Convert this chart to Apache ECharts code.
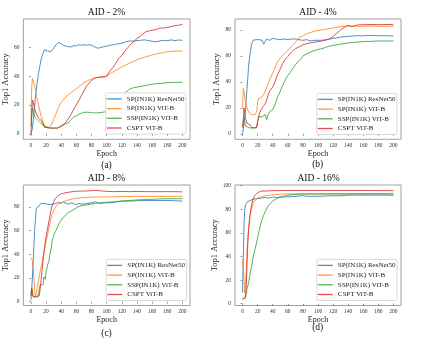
<!DOCTYPE html>
<html><head><meta charset="utf-8">
<script src="https://cdn.jsdelivr.net/npm/echarts@6/dist/echarts.min.js"></script>
<style>html,body{margin:0;padding:0;background:#fff}#c{width:423px;height:345px}</style>
</head><body><div id="c"></div>
<script>
// ---- data ----
const seriesNames = ['SP(IN1K) ResNet50', 'SP(IN1K) ViT-B', 'SSP(IN1K) ViT-B', 'CSPT ViT-B'];
const panelTitles = ['AID - 2%', 'AID - 4%', 'AID - 8%', 'AID - 16%'];
const panelLabels = ['(a)', '(b)', '(c)', '(d)'];
const xTicks = [0, 20, 40, 60, 80, 100, 120, 140, 160, 180, 200];
const yTicksA = [0, 20, 40, 60];
const yTicksB = [0, 20, 40, 60, 80];
const yTicksC = [0, 20, 40, 60, 80];
const yTicksD = [0, 20, 40, 60, 80, 100];

const a_resnet = [[0,0],[2,4],[4,15],[6,26],[8,35],[10,42],[12,48],[14,53],[16,56],[18,58.5],[20,59],[22,57.5],[24,57],[26,57],[28,58],[30,59.5],[33,62],[36,63.5],[38,63],[40,62.5],[43,61.5],[46,61],[50,60.5],[54,60.5],[57,61.5],[60,61],[63,62],[66,61.5],[70,62],[73,61.5],[76,62],[80,61.5],[84,60.5],[88,59.5],[92,60],[96,60.5],[100,61],[105,61.5],[110,62],[115,62.5],[120,63],[125,64],[130,64.5],[135,64.5],[140,64.8],[145,65],[150,65.3],[155,64.8],[160,64.3],[165,64],[170,64.5],[175,65],[180,64.7],[185,65.3],[190,64.8],[195,65.2],[200,65]];
const a_vit = [[0,10],[1,33],[2,38.5],[3,37.5],[5,33],[7,27],[10,20],[13,13],[16,8],[18,5.5],[20,4.5],[23,4.5],[26,5.5],[28,7.5],[30,10],[33,14],[36,18],[40,22],[45,25],[50,27.5],[55,29.5],[60,31.5],[65,33.5],[70,35.5],[75,37],[80,38],[85,39],[90,39.5],[95,39.5],[100,40.5],[105,42],[110,43.5],[115,45],[120,46.5],[130,49],[140,51.5],[150,53.3],[160,54.8],[170,56],[180,57],[190,57.5],[200,57.5]];
const a_ssp = [[0,5],[1,12],[2,18],[3,16],[4,13],[6,11],[8,10],[10,9],[12,8.5],[14,7],[16,6],[18,5],[20,4],[25,4],[30,4],[35,4],[38,5],[42,6.5],[46,7],[50,8],[53,10],[56,11.5],[60,12.5],[65,14],[70,15],[75,15],[80,14.8],[85,14.5],[90,14.7],[95,15],[100,15.5],[105,17],[110,19],[115,22.5],[120,26],[125,29],[130,31],[135,32],[140,32.5],[150,33.5],[160,34.5],[170,35],[180,35.5],[190,35.8],[200,35.8]];
const a_cspt = [[0,0],[1,15],[2,23.5],[3,22],[5,17],[7,14],[10,11],[12,10],[14,9],[16,7],[18,4.5],[20,4],[25,4],[30,4],[35,4],[40,5],[43,6],[46,8],[50,11],[54,14.5],[58,18.5],[62,22],[66,26],[70,30],[74,33.5],[78,36],[82,38],[86,39],[90,39.3],[95,39.5],[100,39.8],[102,42],[104,43.5],[108,46],[112,49],[116,52.5],[120,54.5],[124,57.5],[128,60],[132,62.5],[136,64],[140,66.5],[144,67.5],[148,69.5],[152,71],[156,71.5],[160,72],[165,72.5],[170,73.5],[175,73.5],[180,74],[185,74.5],[190,75.2],[195,75.5],[200,76]];

const b_resnet = [[0,0],[2,8],[4,20],[6,35],[8,52],[10,62],[12,69],[14,72],[16,72],[18,72.5],[20,73],[22,72.5],[24,73.5],[26,72],[28,69],[30,71],[32,73],[34,72.5],[36,72],[38,73],[40,73.5],[42,72.5],[44,73],[46,73.5],[48,72.5],[50,72],[55,73],[60,72.5],[65,73],[70,73],[75,72.5],[80,72],[85,72.5],[90,71.5],[95,72],[100,72],[105,72],[110,72.5],[115,73],[120,73.5],[125,74],[130,74.5],[140,75],[150,75.5],[160,75.5],[170,75.8],[180,75.5],[190,75.5],[200,75.3]];
const b_vit = [[0,20],[1,35],[2,33],[3,28],[5,22],[7,18],[9,16],[11,15],[13,14.5],[15,14],[17,15],[19,18],[20,25],[22,27.5],[25,28],[28,30],[30,33],[33,37],[36,42],[40,47],[43,51],[46,55],[50,58.5],[55,61.5],[60,64],[65,67.5],[70,70.5],[75,74],[80,75.5],[85,77],[90,78],[95,79],[100,79.5],[110,80.5],[120,81.5],[130,82.5],[140,83],[150,82.8],[160,82.8],[170,83],[180,82.8],[190,82.8],[200,82.8]];
const b_ssp = [[0,5],[1,8],[2,12],[3,9],[4,6],[6,4.5],[10,4.5],[15,4.5],[19,5],[20,10],[22,13.5],[24,14],[26,13],[28,12],[30,15],[32,11],[34,15],[36,17],[38,16],[40,18.5],[42,20],[44,24],[46,28],[48,30],[50,33],[53,37],[56,41],[60,45],[63,47],[66,50],[70,53],[74,56],[78,58],[80,60],[85,61.5],[90,63],[95,64],[100,65],[105,65.5],[110,66.5],[115,67.5],[120,68],[130,69],[140,70],[150,70.5],[160,71],[170,71.2],[180,71.5],[190,71.5],[200,71.5]];
const b_cspt = [[0,5],[1,12],[2,20],[3,17],[4,12],[6,8],[8,7.5],[10,7],[12,5],[14,4.5],[18,4.5],[20,9],[22,15],[24,18],[26,20],[28,21],[30,23],[32,26],[34,30],[36,33],[38,34],[40,36],[43,40],[46,45],[50,50],[53,54],[56,57],[60,59.5],[63,62],[66,63.5],[70,65.5],[75,67],[80,68.5],[85,69.5],[90,70],[95,70.5],[100,71],[105,71.5],[110,72],[115,73],[120,75],[125,77.5],[130,80],[135,82],[140,83.5],[145,82.5],[150,83.5],[155,84],[160,84],[170,84.2],[180,84],[190,84.2],[200,84]];

const c_resnet = [[0,1.5],[1,10],[3,35],[5,62],[7,79],[9,80.5],[11,81],[13,83],[15,84],[17,83],[19,83.5],[21,82.5],[23,83],[25,82],[27,83.5],[30,82.5],[33,83],[36,84],[40,83],[43,84.5],[46,83],[50,82.5],[53,83.5],[56,83],[60,82],[63,83],[66,82.5],[70,82.5],[75,83],[80,83.5],[85,84.5],[88,83.5],[92,83],[96,83.5],[100,83.5],[105,83.5],[110,84],[115,84.5],[120,85],[130,85],[140,85.3],[150,85.5],[160,85.5],[170,85.5],[180,85.5],[190,85.3],[200,85]];
const c_vit = [[0,37],[1,36.5],[2,35],[3,28],[4,18],[5,8],[6,5],[7,7],[8,11],[10,18],[12,25],[14,31],[16,38],[18,45],[20,51],[22,57],[24,63],[26,69],[28,74],[30,77],[33,80.5],[36,82.5],[40,84],[45,85],[50,86],[55,86.8],[60,87.5],[70,88],[80,88.3],[90,88.5],[100,88.5],[120,88.8],[140,89],[160,89],[180,89],[200,89]];
const c_ssp = [[0,6],[1,12],[2,6],[3,4],[6,4],[9,4],[11,5],[12,14],[14,15],[16,14.5],[17,21],[18,22],[19,19],[20,26],[21,28],[22,31],[24,35],[25,40],[27,46],[28,52],[30,55],[31,58],[33,60],[35,63],[37,66],[39,68],[41,70],[44,72],[47,74],[50,75.5],[54,77],[58,78.5],[62,80],[66,81],[70,81.5],[75,82],[80,82.5],[85,83],[90,83.5],[100,84],[110,84.5],[120,85],[130,85.5],[140,86],[150,86.3],[160,86.5],[170,86.8],[180,87],[190,87],[200,87]];
const c_cspt = [[0,5],[1,11],[2,8],[3,4.5],[5,5],[7,4.5],[9,4],[11,5],[12,10],[14,22],[16,35],[18,46],[20,55],[22,62],[24,69],[26,76],[28,81],[30,84.5],[32,87],[35,89],[38,90.5],[42,91.5],[46,92],[50,92.5],[55,93],[60,93.3],[65,93.5],[70,93.5],[80,93.8],[85,94],[90,93.8],[95,93.5],[100,93.2],[110,93],[120,93.2],[130,93],[140,93.2],[150,93],[160,93],[170,93],[180,93],[190,93],[200,92.8]];

const d_resnet = [[0,9.5],[1,40],[2,68],[3,80],[4,84],[6,86],[8,87],[10,87.5],[12,88],[14,88.5],[16,88],[18,89],[20,89],[25,89.5],[30,90],[35,89.5],[40,90.5],[45,90],[50,90.5],[60,90.5],[70,91],[80,91.5],[85,91],[90,91],[100,91],[110,91.3],[120,91.5],[130,91.5],[140,92],[150,92],[160,92],[170,92],[180,92],[190,92],[200,91.8]];
const d_vit = [[0,38],[1,30],[2,20],[3,9],[4,10],[5,28],[6,45],[7,55],[8,63],[10,75],[12,81],[14,85],[16,87],[18,88.5],[20,89.5],[25,90.5],[30,91.5],[40,92.3],[50,92.8],[60,93],[80,93],[100,93],[120,93.2],[150,93.3],[200,93.5]];
const d_ssp = [[0,4],[2,4],[3,4.5],[4,6],[5,9],[6,13],[7,15],[8,18],[10,25],[12,32],[14,39],[16,45],[18,50],[20,56],[22,62],[25,70],[28,75],[30,78],[33,82],[36,84.5],[40,87],[45,89],[50,90.2],[55,91],[60,92],[70,92.7],[80,93],[100,93],[120,93],[150,93],[200,93]];
const d_cspt = [[0,4],[2,4],[4,5],[5,15],[6,35],[7,52],[8,63],[10,76],[12,84],[14,89],[16,91.5],[18,93],[20,94],[23,95],[26,95.5],[30,95.5],[40,95.8],[60,96],[80,96],[100,96],[150,96],[200,95.8]];

// ---- layout / style ----
const FONT = 'Liberation Serif';
const colors = ['#1f77b4', '#ff7f0e', '#2ca02c', '#d62728'];
const panels = [
  { data: [a_resnet, a_vit, a_ssp, a_cspt], yTicks: yTicksA, yMin: -3.8, yMax: 79.8, grid: { left: 23, top: 19, width: 167, height: 120.3 }, titleX: 106.5, titleY: 7.5, labelX: 106.5, labelY: 165, legRight: 237, legBottom: 211 },
  { data: [b_resnet, b_vit, b_ssp, b_cspt], yTicks: yTicksB, yMin: -4.2, yMax: 88.4, grid: { left: 235, top: 19, width: 166, height: 120.3 }, titleX: 318, titleY: 7.5, labelX: 317.7, labelY: 164.5, legRight: 26, legBottom: 210.5 },
  { data: [c_resnet, c_vit, c_ssp, c_cspt], yTicks: yTicksC, yMin: -3.2, yMax: 98.6, grid: { left: 23, top: 185, width: 167, height: 120.5 }, titleX: 106.5, titleY: 173.5, labelX: 106.5, labelY: 333.5, legRight: 236.5, legBottom: 44.5 },
  { data: [d_resnet, d_vit, d_ssp, d_cspt], yTicks: yTicksD, yMin: -1.5, yMax: 100.6, grid: { left: 235, top: 185, width: 166, height: 120.5 }, titleX: 318.5, titleY: 173.5, labelX: 317.7, labelY: 327.5, legRight: 26, legBottom: 44.5 }
];

const grids = [], xAxes = [], yAxes = [], series = [], titles = [], legends = [], graphics = [];
panels.forEach((p, i) => {
  grids.push(Object.assign({ show: true, borderColor: '#8a8a8a', borderWidth: 0.8, backgroundColor: 'transparent' }, p.grid));
  xAxes.push({
    type: 'value', gridIndex: i, min: -10, max: 210,
    name: 'Epoch', nameLocation: 'middle', nameGap: 9,
    nameTextStyle: { fontFamily: FONT, fontSize: 8, color: '#222' },
    axisLine: { show: false }, splitLine: { show: false },
    axisTick: { show: true, length: 2, customValues: xTicks, lineStyle: { color: '#555', width: 0.6 } },
    axisLabel: { customValues: xTicks, margin: 3.5, fontFamily: FONT, fontSize: 5.5, color: '#333' }
  });
  yAxes.push({
    type: 'value', gridIndex: i, min: p.yMin, max: p.yMax,
    name: 'Top1 Accuracy', nameLocation: 'middle', nameGap: 10,
    nameTextStyle: { fontFamily: FONT, fontSize: 8.5, color: '#222' },
    axisLine: { show: false }, splitLine: { show: false },
    axisTick: { show: true, length: 2, customValues: p.yTicks, lineStyle: { color: '#555', width: 0.6 } },
    axisLabel: { customValues: p.yTicks, margin: 4, fontFamily: FONT, fontSize: 5.5, color: '#333' }
  });
  p.data.forEach((d, k) => {
    series.push({
      type: 'line', name: seriesNames[k], xAxisIndex: i, yAxisIndex: i,
      data: d, symbol: 'none', showSymbol: false, smooth: false,
      color: colors[k], z: 2 + k,
      lineStyle: { width: 1, color: colors[k], opacity: 0.8 }
    });
  });
  titles.push({
    text: panelTitles[i], left: p.titleX, top: p.titleY, textAlign: 'center', padding: 0,
    textStyle: { fontFamily: FONT, fontSize: 9.5, fontWeight: 'normal', color: '#111' }
  });
  legends.push({
    data: seriesNames, orient: 'vertical', right: p.legRight, bottom: p.legBottom,
    icon: 'rect', itemWidth: 15, itemHeight: 1.3, itemGap: 2.7, padding: [2.5, 1.5, 2.5, 1],
    itemStyle: { opacity: 0.8 },
    backgroundColor: 'rgba(255,255,255,0.9)', borderColor: '#d0d0d0', borderWidth: 0.8, borderRadius: 2,
    selectedMode: false, z: 10,
    textStyle: { fontFamily: FONT, fontSize: 7, color: '#222', lineHeight: 7 }
  });
  graphics.push({
    type: 'text', x: p.labelX, y: p.labelY,
    style: { text: panelLabels[i], fontFamily: FONT, fontSize: 9.5, fill: '#111', textAlign: 'center', textVerticalAlign: 'middle' }
  });
});

const chart = echarts.init(document.getElementById('c'), null, { renderer: 'canvas' });
chart.setOption({
  animation: false,
  backgroundColor: '#fff',
  title: titles, legend: legends, grid: grids, xAxis: xAxes, yAxis: yAxes, series: series,
  graphic: graphics
});
</script></body></html>
